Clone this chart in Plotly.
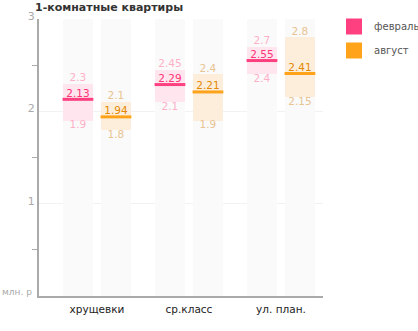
import plotly.graph_objects as go

categories = ["хрущевки", "ср.класс", "ул. план."]
series_names = ["февраль", "август"]
feb_min = [1.9, 2.1, 2.4]
feb_med = [2.13, 2.29, 2.55]
feb_max = [2.3, 2.45, 2.7]
aug_min = [1.8, 1.9, 2.15]
aug_med = [1.94, 2.21, 2.41]
aug_max = [2.1, 2.4, 2.8]
y_ticks = [1, 2, 3]
y_unit = "млн. р"

FONT = "DejaVu Sans"
offset = 0.2065
bw = 0.326
ymax = 3

styles = [
    dict(main="#ff4080", fill="#ffe6ee", lab="#ffb0c8", medlab="#ff3377"),
    dict(main="#ffa31a", fill="#fdeedc", lab="#e9c391", medlab="#e48800"),
]
data = [(feb_min, feb_med, feb_max), (aug_min, aug_med, aug_max)]

fig = go.Figure()
for si, (mn, md, mx) in enumerate(data):
    st = styles[si]
    xs = [i + (-offset if si == 0 else offset) for i in range(len(categories))]
    fig.add_trace(go.Bar(x=xs, y=[ymax] * len(xs), base=0, width=bw,
                         marker=dict(color="#fafafa", line=dict(width=0)),
                         showlegend=False, hoverinfo="skip"))
    fig.add_trace(go.Bar(x=xs, y=[b - a for a, b in zip(mn, mx)], base=mn, width=bw,
                         marker=dict(color=st["fill"], line=dict(width=0)),
                         showlegend=False, hoverinfo="skip"))
    fig.add_trace(go.Scatter(x=xs, y=md, mode="markers",
                             marker=dict(symbol="line-ew-open", size=22, color=st["main"],
                                         line=dict(color=st["main"], width=3)),
                             showlegend=False, hoverinfo="skip", cliponaxis=False))
    fig.add_trace(go.Scatter(x=xs, y=md, mode="text",
                             text=[f"{v:g}" for v in md], textposition="top center",
                             textfont=dict(family=FONT, size=10.5, color=st["medlab"]),
                             showlegend=False, hoverinfo="skip", cliponaxis=False))
    fig.add_trace(go.Scatter(x=xs, y=mx, mode="text",
                             text=[f"{v:g}" for v in mx], textposition="top center",
                             textfont=dict(family=FONT, size=10.5, color=st["lab"]),
                             showlegend=False, hoverinfo="skip", cliponaxis=False))
    fig.add_trace(go.Scatter(x=xs, y=mn, mode="text",
                             text=[f"{v:g}" for v in mn], textposition="bottom center",
                             textfont=dict(family=FONT, size=10.5, color=st["lab"]),
                             showlegend=False, hoverinfo="skip", cliponaxis=False))
    fig.add_trace(go.Scatter(x=[None], y=[None], mode="markers", name=series_names[si],
                             legendgroup=series_names[si],
                             marker=dict(symbol="square", size=16, color=st["main"])))

fig.update_layout(
    width=418, height=331,
    margin=dict(l=39, r=95, t=19, b=35, autoexpand=False),
    plot_bgcolor="white", paper_bgcolor="white",
    barmode="overlay",
    bargap=0,
    title=dict(text="<b>1-комнатные квартиры</b>", x=35 / 418, xanchor="left",
               y=1 - 7 / 331, yanchor="middle",
               font=dict(family=FONT, size=11, color="#333333")),
    legend=dict(x=(334 - 39) / 284, y=1 + 7 / 277, xanchor="left", yanchor="top",
                font=dict(family=FONT, size=10, color="#555555"),
                itemsizing="trace", traceorder="grouped", tracegroupgap=5,
                bgcolor="rgba(0,0,0,0)"),
    showlegend=True,
)
fig.update_xaxes(range=[-0.63, 2.457], tickvals=list(range(len(categories))),
                 ticktext=categories, ticks="", showgrid=False, zeroline=False,
                 showline=True, linecolor="#aaaaaa", linewidth=2, ticklabelstandoff=2,
                 tickfont=dict(family=FONT, size=10.5, color="#222222"), fixedrange=True)
fig.update_yaxes(range=[0, ymax], tickvals=y_ticks, ticktext=[str(v) for v in y_ticks],
                 ticks="", showgrid=True, gridcolor="#f2f2f2", gridwidth=1, zeroline=False,
                 showline=True, linecolor="#aaaaaa", linewidth=2,
                 tickfont=dict(family=FONT, size=11, color="#aaaaaa"),
                 ticklabelshift=-3,
                 minor=dict(tickvals=[0.5, 1.5, 2.5], ticks="outside", ticklen=5,
                            tickcolor="#aaaaaa", tickwidth=1, showgrid=False),
                 fixedrange=True)
fig.add_annotation(text=y_unit, xref="paper", yref="y", x=0, y=0, xanchor="right",
                   yanchor="middle", xshift=-5, yshift=4, showarrow=False,
                   font=dict(family=FONT, size=9, color="#aaaaaa"))
fig.write_html("out.html")
